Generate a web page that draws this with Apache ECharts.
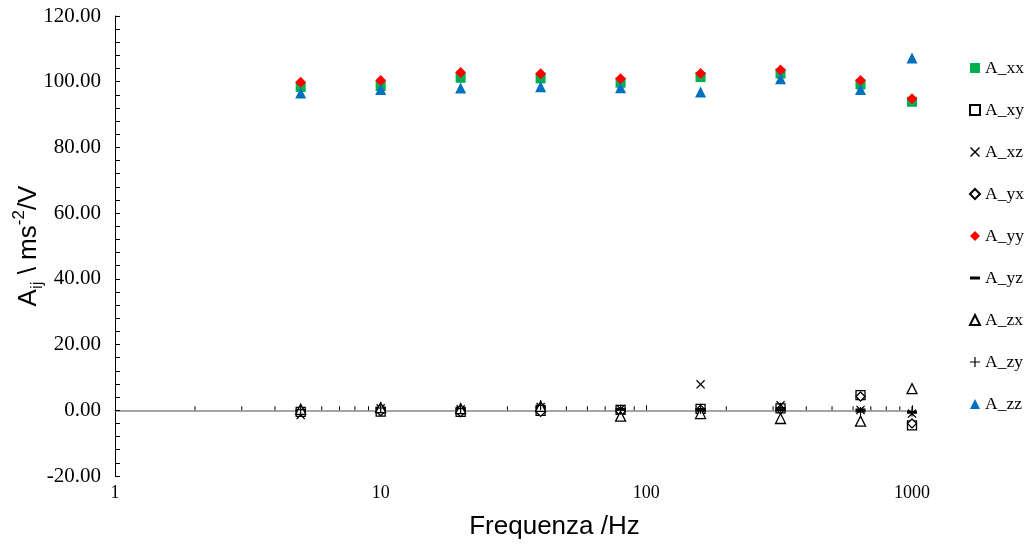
<!DOCTYPE html>
<html>
<head>
<meta charset="utf-8">
<script src="https://cdn.jsdelivr.net/npm/echarts@6/dist/echarts.min.js"></script>
<style>
  html, body { margin: 0; padding: 0; background: #fff; }
  #main { width: 1030px; height: 548px; }
</style>
</head>
<body>
<div id="main"></div>
<script>
// frequencies (Hz) and A_ij values
var freqs = [5, 10, 20, 40, 80, 160, 320, 640, 1000];
var A_xx = [98.4, 98.7, 101.2, 101.0, 99.7, 101.4, 102.5, 99.2, 93.9];
var A_xy = [-0.5, -0.4, -0.5, -0.2, 0.1, 0.4, 0.6, 4.6, -4.6];
var A_xz = [-1.4, 0.6, 0.3, 1.0, 0.4, 7.9, 1.5, 0.1, -1.0];
var A_yx = [-0.2, -0.3, -0.6, -0.5, -0.4, 0.2, 0.3, 4.2, -4.0];
var A_yy = [99.8, 100.4, 102.8, 102.4, 100.9, 102.5, 103.6, 100.4, 94.8];
var A_yz = [-0.3, 0.4, 0.2, 0.8, 0.3, 0.1, 0.2, 0.1, -0.6];
var A_zx = [0.3, 0.8, 0.5, 1.2, -1.8, -1.0, -2.5, -3.3, 6.6];
var A_zy = [0.2, 0.7, 0.5, 1.5, 0.2, 0.5, 0.8, -0.5, -0.4];
var A_zz = [96.6, 97.6, 98.1, 98.5, 98.2, 96.9, 100.9, 97.6, 107.2];

// log minor ticks on the zero line (2..9 of each decade)
var minorTickVals = [2, 3, 4, 5, 6, 7, 8, 9, 20, 30, 40, 50, 60, 70, 80, 90,
                     200, 300, 400, 500, 600, 700, 800, 900];

var serif = 'Liberation Serif';
var sans = 'Liberation Sans';

var crossPath = 'path://M0,1L1,0L5,4L9,0L10,1L6,5L10,9L9,10L5,6L1,10L0,9L4,5Z';
var plusPath = 'path://M4.4,0H5.6V4.4H10V5.6H5.6V10H4.4V5.6H0V4.4H4.4Z';
var dashPath = 'path://M0,0H10V3H0Z';

function pairs(vals) {
    return freqs.map(function (f, i) { return [f, vals[i]]; });
}

function filled(name, vals, symbol, size, color) {
    return {
        name: name, type: 'scatter', xAxisIndex: 0,
        symbol: symbol, symbolSize: size,
        itemStyle: { color: color, opacity: 1 },
        data: pairs(vals)
    };
}

function hollow(name, vals, symbol, size) {
    return {
        name: name, type: 'scatter', xAxisIndex: 0,
        symbol: symbol, symbolSize: size,
        itemStyle: { color: '#fff', borderColor: '#000', borderWidth: 1.3, opacity: 1 },
        data: pairs(vals)
    };
}

var chart = echarts.init(document.getElementById('main'));

var option = {
    animation: false,
    backgroundColor: '#fff',
    grid: { left: 115, right: 118, top: 16, bottom: 72, containLabel: false, outerBoundsMode: 'none' },
    legend: {
        orient: 'vertical',
        left: 964,
        top: 54,
        itemWidth: 10,
        itemHeight: 10,
        itemGap: 24,
        textStyle: { fontFamily: serif, fontSize: 17.5, color: '#000' },
        data: ['A_xx', 'A_xy', 'A_xz', 'A_yx', 'A_yy',
               { name: 'A_yz', icon: dashPath }, 'A_zx', 'A_zy', 'A_zz']
    },
    xAxis: [
        {
            type: 'log', logBase: 10, min: 1, max: 1000,
            position: 'bottom',
            axisLine: { show: false, onZero: false },
            axisTick: { show: false },
            splitLine: { show: false },
            axisLabel: {
                fontFamily: serif, fontSize: 18, color: '#000', margin: 8,
                formatter: function (v) { return String(v); }
            },
            name: 'Frequenza /Hz',
            nameLocation: 'middle',
            nameGap: 38,
            nameMoveOverlap: false,
            nameTextStyle: { fontFamily: sans, fontSize: 26, color: '#000', padding: [0, 0, 0, 82] }
        },
        {
            type: 'log', logBase: 10, min: 1, max: 1000,
            position: 'bottom',
            axisLine: { show: true, onZero: true, lineStyle: { color: '#868686', width: 1.5 } },
            axisTick: { show: true, inside: true, length: 5, lineStyle: { color: '#000' } },
            splitLine: { show: false },
            axisLabel: { show: false }
        }
    ],
    yAxis: {
        type: 'value', min: -20, max: 120, interval: 20,
        axisLine: { show: true, lineStyle: { color: '#000', width: 1 } },
        axisTick: { show: true, inside: true, length: 5, lineStyle: { color: '#000' } },
        minorTick: { show: true, splitNumber: 5, length: 5, lineStyle: { color: '#000' } },
        splitLine: { show: false },
        axisLabel: {
            fontFamily: serif, fontSize: 21, color: '#000', margin: 14,
            formatter: function (v) { return v.toFixed(2); }
        },
        name: '{a|A}{sub|ij}{a| \\ ms}{sup|-2}{a|/V}',
        nameLocation: 'middle',
        nameGap: 70,
        nameMoveOverlap: false,
        nameTextStyle: {
            fontFamily: sans, fontSize: 26, color: '#000',
            rich: {
                a: { fontFamily: sans, fontSize: 26, color: '#000', lineHeight: 32 },
                sub: { fontFamily: sans, fontSize: 17, color: '#000', lineHeight: 32, verticalAlign: 'bottom', padding: [0, 0, -1, 0] },
                sup: { fontFamily: sans, fontSize: 17, color: '#000', lineHeight: 32, verticalAlign: 'top', padding: [-2, 0, 0, 0] }
            }
        }
    },
    series: [
        filled('A_xx', A_xx, 'rect', 10, '#00B050'),
        hollow('A_xy', A_xy, 'rect', 9),
        filled('A_xz', A_xz, crossPath, 9, '#000'),
        hollow('A_yx', A_yx, 'diamond', 9),
        filled('A_yy', A_yy, 'diamond', 11, '#FF0000'),
        filled('A_yz', A_yz, 'rect', [10, 3], '#000'),
        hollow('A_zx', A_zx, 'triangle', 10),
        filled('A_zy', A_zy, plusPath, 10, '#000'),
        filled('A_zz', A_zz, 'triangle', 11, '#0070C0'),
        {
            type: 'custom',
            xAxisIndex: 0,
            silent: true,
            z: 1,
            data: minorTickVals.map(function (v) { return [v, 0]; }),
            renderItem: function (params, api) {
                var p = api.coord([api.value(0), 0]);
                return {
                    type: 'line',
                    shape: { x1: p[0], y1: p[1], x2: p[0], y2: p[1] - 4 },
                    style: { stroke: '#000', lineWidth: 1 }
                };
            }
        }
    ]
};

chart.setOption(option);
</script>
</body>
</html>
